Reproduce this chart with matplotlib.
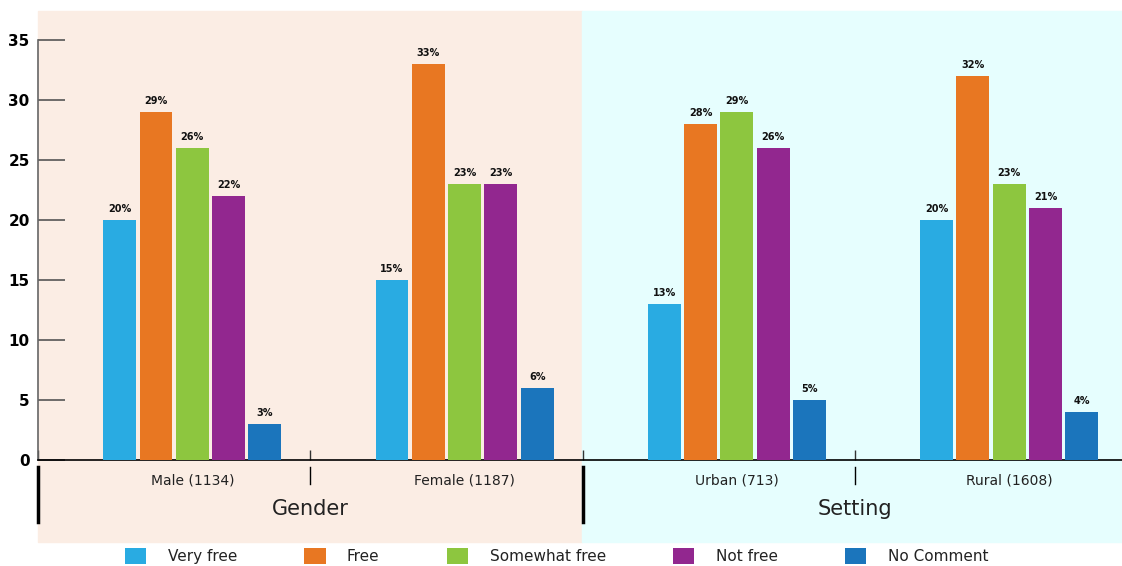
import numpy as np
import matplotlib
matplotlib.use('Agg')
import matplotlib.pyplot as plt
from matplotlib.patches import Rectangle

categories = ['Male (1134)', 'Female (1187)', 'Urban (713)', 'Rural (1608)']
groups = ['Gender', 'Setting']
series_names = ['Very free', 'Free', 'Somewhat free', 'Not free', 'No Comment']
very_free = [20, 15, 13, 20]
free = [29, 33, 28, 32]
somewhat_free = [26, 23, 29, 23]
not_free = [22, 23, 26, 21]
no_comment = [3, 6, 5, 4]
colors = ['#29ABE2', '#E87722', '#8DC63F', '#92278F', '#1B75BC']

plt.rcParams['font.family'] = ['DejaVu Sans']

fig = plt.figure(figsize=(11.22, 5.66), dpi=100)
# axes runs a little past the right edge of the figure, like the original
ax = fig.add_axes([38 / 1122, 1 - 460 / 566, 1089.2 / 1122, 420 / 566])
ax.set_facecolor('none')

# panel backgrounds behind the axes
fig.patches.append(Rectangle((38 / 1122, 1 - 542 / 566), (582 - 38) / 1122, 531 / 566,
                             transform=fig.transFigure, color='#FBEDE4', zorder=-10))
fig.patches.append(Rectangle((582 / 1122, 1 - 542 / 566), (1122 - 582) / 1122, 531 / 566,
                             transform=fig.transFigure, color='#E6FEFE', zorder=-10))

x = np.arange(len(categories)) + 0.5
step = 0.1333
width = 0.121
all_series = [very_free, free, somewhat_free, not_free, no_comment]
for i, (vals, name, c) in enumerate(zip(all_series, series_names, colors)):
    pos = x + (i + 1 - 2.5) * step
    bars = ax.bar(pos, vals, width, color=c, label=name, zorder=3)
    for b, v in zip(bars, vals):
        ax.annotate(f'{v}%', (b.get_x() + b.get_width() / 2, v), xytext=(0, 4),
                    textcoords='offset points', ha='center', va='bottom',
                    fontsize=7, fontweight='bold', color='#111111')

ax.set_xlim(0, 4)
ax.set_ylim(0, 35)
ax.set_yticks(range(0, 36, 5))
ax.tick_params(axis='y', direction='in', length=19.5, width=1.2, color='#555555',
               labelsize=11, pad=6)
for lab in ax.get_yticklabels():
    lab.set_fontweight('bold')

ax.set_xticks([0, 1, 2, 3, 4])
ax.set_xticklabels([])
ax.tick_params(axis='x', direction='in', length=7, width=1, color='#333333')
# category labels sit under the middle of each bar group
ax.set_xticks(x + 0.5 * step, minor=True)
ax.set_xticklabels(categories, minor=True)
ax.tick_params(axis='x', which='minor', length=0, pad=10, labelsize=10, labelcolor='#222222')

for s in ['top', 'right']:
    ax.spines[s].set_visible(False)
ax.spines['left'].set_color('#666666')
ax.spines['left'].set_linewidth(1.2)
ax.spines['bottom'].set_color('black')
ax.spines['bottom'].set_linewidth(1.2)

# multi-level category separators below the axis
trans = ax.get_xaxis_transform()
for b in [1, 3]:
    ax.plot([b, b], [-0.0167, -0.057], color='black', lw=1, transform=trans, clip_on=False)
for b in [0, 2]:
    ax.plot([b, b], [-0.0167, -0.148], color='black', lw=2.5, transform=trans, clip_on=False)
for gx, g in zip([1, 3], groups):
    ax.text(gx, -0.117, g, transform=trans, ha='center', va='center', fontsize=15,
            color='#222222')

fig.legend(loc='center', bbox_to_anchor=(0.496, 0.0177), ncol=5, frameon=False,
           fontsize=11, handlelength=1.4, handleheight=1.3, handletextpad=1.4,
           columnspacing=4.4, labelcolor='#222222')

fig.savefig('out.png', dpi=100)
